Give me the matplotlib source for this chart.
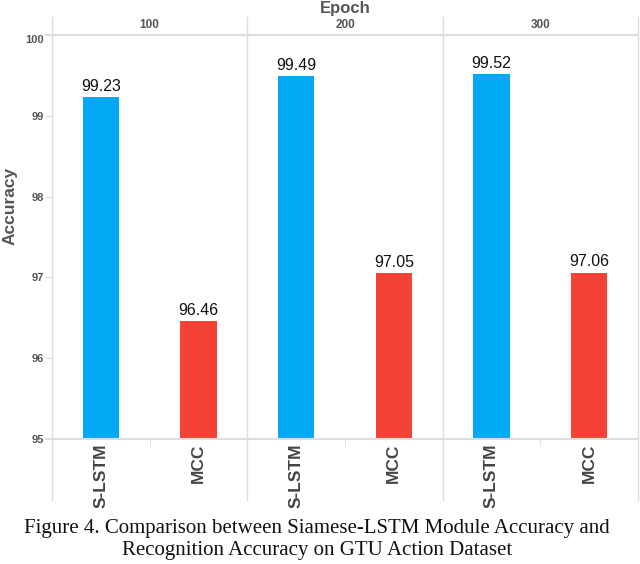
import matplotlib.pyplot as plt
from matplotlib.lines import Line2D

epochs = ['100', '200', '300']
models = ['S-LSTM', 'MCC']
s_lstm = [99.23, 99.49, 99.52]
mcc = [96.46, 97.05, 97.06]
colors = ['#03A9F4', '#F44336']

W, H = 640, 564
fig = plt.figure(figsize=(6.4, 5.64), dpi=100)
plt.rcParams['font.family'] = ['Liberation Sans', 'DejaVu Sans']

def fx(px):
    return px / W

def fy(py):
    return 1 - py / H

left, right = 52, 638
top, bottom = 35, 439
pw = (right - left) / 3
grey = '#dddddd'
txt = '#555555'

for i, ep in enumerate(epochs):
    ax = fig.add_axes([fx(left + i * pw), fy(bottom), fx(pw), fy(top) - fy(bottom)])
    vals = [s_lstm[i], mcc[i]]
    ax.bar([0, 1], [v - 95 for v in vals], bottom=95, width=0.37, color=colors)
    for x, v in zip([0, 1], vals):
        ax.text(x, v + 0.04, f'{v:.2f}', ha='center', va='bottom', fontsize=11.5,
                color='#111111')
    ax.set_xlim(-0.5, 1.5)
    ax.set_ylim(95, 100)
    for s in ax.spines.values():
        s.set_visible(False)
    ax.set_xticks([0, 1])
    ax.set_xticklabels(models, rotation=90, fontsize=12.5, fontweight='bold',
                       color='#444444', va='top', ha='center')
    ax.set_xticks([0.5], minor=True)
    ax.tick_params(axis='x', which='major', length=0, pad=3)
    ax.tick_params(axis='x', which='minor', length=5, color=grey)
    if i == 0:
        ax.set_yticks([95, 96, 97, 98, 99, 100])
        ax.set_yticklabels(['95', '96', '97', '98', '99', '100'], fontsize=8,
                           fontweight='bold', color=txt)
        ax.tick_params(axis='y', length=5, color=grey, pad=1)
        ax.get_yticklabels()[-1].set_va('top')
    else:
        ax.set_yticks([])
    fig.text(fx(left + (i + 0.5) * pw), fy(25), ep, ha='center', va='center',
             fontsize=8.5, fontweight='bold', color=txt)

# panel separators and header lines
for k in range(4):
    x = fx(left + k * pw)
    fig.add_artist(Line2D([x, x], [fy(17), fy(500)], color=grey, lw=1))
fig.add_artist(Line2D([fx(46), fx(right)], [fy(top), fy(top)], color=grey, lw=1.5))
fig.add_artist(Line2D([fx(46), fx(right)], [fy(bottom), fy(bottom)], color=grey, lw=1.5))

fig.text(fx(345), fy(8), 'Epoch', ha='center', va='center', fontsize=12,
         fontweight='bold', color=txt)
fig.text(fx(10), fy(206), 'Accuracy', ha='center', va='center', rotation=90,
         fontsize=12.5, fontweight='bold', color=txt)

fig.text(fx(317), fy(528), 'Figure 4. Comparison between Siamese-LSTM Module Accuracy and',
         ha='center', va='center', fontsize=15, family='Liberation Serif', color='#111111')
fig.text(fx(317), fy(551), 'Recognition Accuracy on GTU Action Dataset',
         ha='center', va='center', fontsize=15, family='Liberation Serif', color='#111111')

fig.savefig('out.png', dpi=100)
